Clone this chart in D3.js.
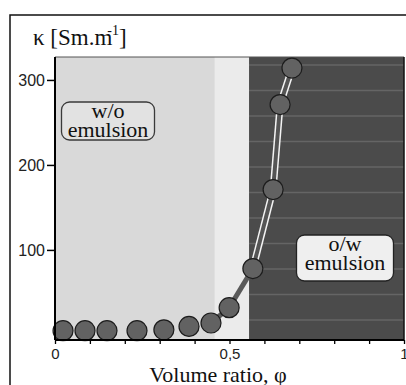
<!DOCTYPE html>
<html>
<head>
<meta charset="utf-8">
<script src="https://cdn.jsdelivr.net/npm/d3@7"></script>
<style>
  body { margin: 0; background: #fff; }
  svg { display: block; }
</style>
</head>
<body>
<div id="chart"></div>
<script>
// volume ratio vs conductivity
const phi = [0.023, 0.086, 0.149, 0.235, 0.312, 0.384, 0.447, 0.499, 0.567, 0.625, 0.645, 0.679];
const kappa = [5, 5, 5, 5, 6, 10, 14, 32, 78, 171, 271, 314];
// connector style for segment i -> i+1 (none / solid / hollow)
const linkStyle = ['none', 'none', 'none', 'none', 'none', 'none', 'solid', 'solid', 'hollow', 'hollow', 'hollow'];

const regionStart = [0, 0.458, 0.556];
const regionEnd = [0.458, 0.556, 1];
const regionFill = ['#d9d9d9', '#ebebeb', '#4b4b4b'];

const yTicks = [100, 200, 300];
const xTicks = [0, 0.1, 0.2, 0.3, 0.4, 0.5, 0.6, 0.7, 0.8, 0.9, 1];
const xTickLabels = { 0: '0', 0.5: '0,5', 1: '1' };

const width = 406, height = 385;
const margin = { top: 57, right: 2, bottom: 45, left: 55 };
const serif = '"Liberation Serif", "Times New Roman", serif';
const sans = '"Liberation Sans", Arial, sans-serif';

const svg = d3.select('#chart').append('svg')
  .attr('width', width)
  .attr('height', height);

// outer frame
svg.append('rect')
  .attr('x', 10).attr('y', 15)
  .attr('width', 430).attr('height', 420)
  .attr('fill', 'none')
  .attr('stroke', '#111')
  .attr('stroke-width', 1.5);

const x = d3.scaleLinear().domain([0, 1]).range([margin.left, width - margin.right]);
const y = d3.scaleLinear().domain([-6, 327]).range([height - margin.bottom, margin.top]);

const g = svg.append('g');

// background regions
g.selectAll('rect.region')
  .data(regionStart)
  .enter()
  .append('rect')
  .attr('class', 'region')
  .attr('x', d => x(d))
  .attr('y', y(327))
  .attr('width', (d, i) => x(regionEnd[i]) - x(d))
  .attr('height', y(-6) - y(327))
  .attr('fill', (d, i) => regionFill[i]);

// scan-line texture in the dark part
const stripes = d3.range(y(327) + 8, y(-6), 25.5);
g.selectAll('line.stripe')
  .data(stripes)
  .enter()
  .append('line')
  .attr('x1', x(regionStart[2]))
  .attr('x2', x(1))
  .attr('y1', d => d)
  .attr('y2', d => d)
  .attr('stroke', '#777')
  .attr('stroke-width', 1.5)
  .attr('opacity', 0.6);

// top and right border of the plot
g.append('line')
  .attr('x1', x(0)).attr('x2', x(1))
  .attr('y1', y(327)).attr('y2', y(327))
  .attr('stroke', '#555').attr('stroke-width', 1);
g.append('line')
  .attr('x1', x(1)).attr('x2', x(1))
  .attr('y1', y(327)).attr('y2', y(-6))
  .attr('stroke', '#111').attr('stroke-width', 1.5);

// connectors
const links = d3.range(phi.length - 1).filter(i => linkStyle[i] !== 'none');
g.selectAll('line.outer')
  .data(links.filter(i => linkStyle[i] === 'hollow'))
  .enter()
  .append('line')
  .attr('x1', i => x(phi[i])).attr('y1', i => y(kappa[i]))
  .attr('x2', i => x(phi[i + 1])).attr('y2', i => y(kappa[i + 1]))
  .attr('stroke', '#f4f4f4')
  .attr('stroke-width', 7);
g.selectAll('line.inner')
  .data(links)
  .enter()
  .append('line')
  .attr('x1', i => x(phi[i])).attr('y1', i => y(kappa[i]))
  .attr('x2', i => x(phi[i + 1])).attr('y2', i => y(kappa[i + 1]))
  .attr('stroke', i => linkStyle[i] === 'hollow' ? '#555' : '#5a5a5a')
  .attr('stroke-width', i => linkStyle[i] === 'hollow' ? 4 : 5);

// points
g.selectAll('circle')
  .data(phi)
  .enter()
  .append('circle')
  .attr('cx', d => x(d))
  .attr('cy', (d, i) => y(kappa[i]))
  .attr('r', 10)
  .attr('fill', '#626262')
  .attr('stroke', '#1c1c1c')
  .attr('stroke-width', 1.2);

// axes
const yAxis = d3.axisLeft(y).tickValues(yTicks).tickSize(8).tickPadding(2);
const ya = svg.append('g')
  .attr('transform', `translate(${x(0)},0)`)
  .call(yAxis);
ya.select('.domain').attr('d', `M0,${y(327)}V${y(-6)}`).attr('stroke-width', 2);
ya.selectAll('.tick line').attr('stroke-width', 1.5);
ya.selectAll('text')
  .attr('font-family', sans)
  .attr('font-size', 16)
  .attr('fill', '#222');

const xAxis = d3.axisBottom(x).tickValues(xTicks).tickSize(4).tickPadding(4)
  .tickFormat(d => xTickLabels[d] || '');
const xa = svg.append('g')
  .attr('transform', `translate(0,${y(-6)})`)
  .call(xAxis);
xa.select('.domain').attr('d', `M${x(0)},0H${x(1)}`).attr('stroke-width', 2);
xa.selectAll('.tick line').attr('stroke-width', 1.3);
xa.selectAll('text')
  .attr('font-family', sans)
  .attr('font-size', 15)
  .attr('fill', '#222');

// titles
const title = svg.append('text')
  .attr('x', 33).attr('y', 45)
  .attr('font-family', serif)
  .attr('font-size', 23)
  .attr('fill', '#111');
title.append('tspan').text('κ  [Sm.m');
title.append('tspan').attr('dx', -5).attr('dy', -10).attr('font-size', 14).text('-1');
title.append('tspan').attr('dy', 10).text(']');

svg.append('text')
  .attr('x', 218).attr('y', 382)
  .attr('text-anchor', 'middle')
  .attr('font-family', serif)
  .attr('font-size', 22)
  .attr('fill', '#111')
  .text('Volume ratio,  φ');

// region labels
function label(cx, top, w, h, fill, stroke, lines) {
  svg.append('rect')
    .attr('x', cx - w / 2).attr('y', top)
    .attr('width', w).attr('height', h)
    .attr('rx', 8)
    .attr('fill', fill)
    .attr('stroke', stroke)
    .attr('stroke-width', 1.3);
  svg.selectAll(null)
    .data(lines)
    .enter()
    .append('text')
    .attr('x', cx)
    .attr('y', (d, i) => top + 16 + i * 19)
    .attr('text-anchor', 'middle')
    .attr('font-family', serif)
    .attr('font-size', 22)
    .attr('fill', '#111')
    .text(d => d);
}
label(108, 102, 93, 38, '#e2e2e2', '#3a3a3a', ['w/o', 'emulsion']);
label(345, 235, 97, 46, '#efefef', '#222', ['o/w', 'emulsion']);
</script>
</body>
</html>
